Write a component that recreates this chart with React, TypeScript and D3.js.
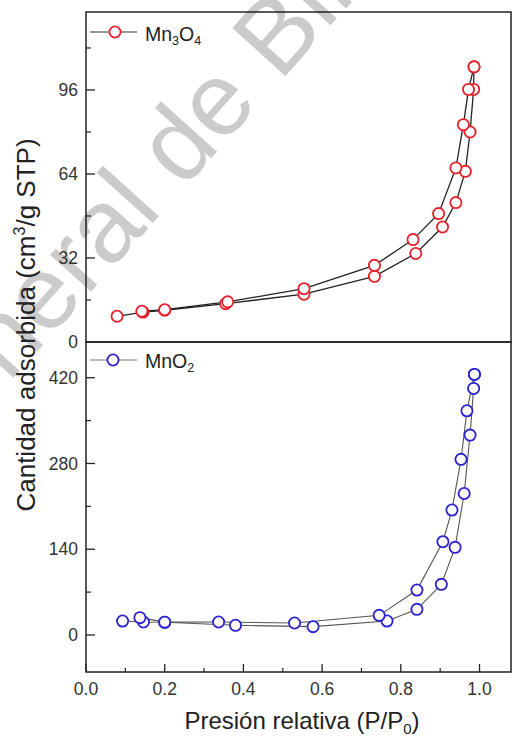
import React from "react";
import * as d3 from "d3";

// ---------- data ----------
const mn3o4AdsX = [0.079, 0.145, 0.2, 0.355, 0.554, 0.733, 0.838, 0.906, 0.94, 0.964, 0.976, 0.985, 0.986];
const mn3o4AdsY = [9.8, 11.4, 12.1, 14.6, 18.2, 25.0, 33.7, 43.8, 53.1, 65.0, 80.0, 96.2, 104.8];
const mn3o4DesX = [0.986, 0.972, 0.959, 0.94, 0.896, 0.831, 0.733, 0.554, 0.36, 0.2, 0.142];
const mn3o4DesY = [104.8, 96.2, 82.8, 66.3, 48.9, 39.0, 29.2, 20.3, 15.3, 12.3, 11.7];

const mno2AdsX = [0.093, 0.146, 0.2, 0.38, 0.577, 0.765, 0.841, 0.903, 0.938, 0.961, 0.976, 0.985, 0.987];
const mno2AdsY = [22.8, 21.2, 20.7, 15.8, 13.6, 22.8, 41.9, 82.7, 143.1, 231, 326.3, 402.5, 425.4];
const mno2DesX = [0.987, 0.968, 0.953, 0.93, 0.907, 0.841, 0.745, 0.53, 0.337, 0.2, 0.137];
const mno2DesY = [425.4, 366, 286.7, 204, 152.3, 73.4, 32.1, 19.6, 21.2, 21.0, 28.3];

const xTicks = [0, 0.2, 0.4, 0.6, 0.8, 1.0];
const xMinor = [0.1, 0.3, 0.5, 0.7, 0.9];
const yTopTicks = [0, 32, 64, 96];
const yTopMinor = [16, 48, 80, 112];
const yBotTicks = [0, 140, 280, 420];
const yBotMinor = [70, 210, 350];

const FONT = "'Liberation Sans', Arial, sans-serif";

export default function App() {
  const L = 86, R = 511, T = 12, M = 342, B = 672;
  const x = d3.scaleLinear().domain([0, 1.08]).range([L, R]);
  const yTop = d3.scaleLinear().domain([0, 125.7]).range([M, T]);
  const yBot = d3.scaleLinear().domain([-60.4, 478.3]).range([B, M]);

  const pts = (xs: number[], ys: number[]) => xs.map((v, i) => [v, ys[i]] as [number, number]);
  const lineTop = d3.line<[number, number]>().x(d => x(d[0])).y(d => yTop(d[1]));
  const lineBot = d3.line<[number, number]>().x(d => x(d[0])).y(d => yBot(d[1]));

  const red = "#e8202a";
  const blue = "#2b22d0";
  const r = 5.6;
  const tickFont = 17.5;

  const series = [
    { data: pts(mn3o4AdsX, mn3o4AdsY), line: lineTop, y: yTop, color: red, lc: "#222", lw: 1.3 },
    { data: pts(mn3o4DesX, mn3o4DesY), line: lineTop, y: yTop, color: red, lc: "#222", lw: 1.3 },
    { data: pts(mno2AdsX, mno2AdsY), line: lineBot, y: yBot, color: blue, lc: "#555", lw: 1.1 },
    { data: pts(mno2DesX, mno2DesY), line: lineBot, y: yBot, color: blue, lc: "#555", lw: 1.1 },
  ];

  return (
    <svg width={512} height={736} style={{ position: "absolute", left: 0, top: 0, background: "#fff" }} fontFamily={FONT}>
      <rect x={0} y={0} width={512} height={736} fill="#fff" />
      {/* watermark */}
      <text transform="translate(-84,486) rotate(-48)" fontSize={104} fill="#cbcbcb" fontFamily={FONT}>
        General de Bibliotecas UAQ
      </text>

      {/* frames */}
      <rect x={L} y={T} width={R - L} height={M - T} fill="none" stroke="#222" strokeWidth={1.5} />
      <rect x={L} y={M} width={R - L} height={B - M} fill="none" stroke="#222" strokeWidth={1.5} />

      {/* y ticks top */}
      {yTopTicks.map(v => (
        <g key={"yt" + v}>
          {v !== 0 && <line x1={L} x2={L + 9} y1={yTop(v)} y2={yTop(v)} stroke="#222" strokeWidth={1.3} />}
          <text x={78} y={yTop(v)} dy="0.35em" textAnchor="end" fontSize={tickFont} fill="#333">{v}</text>
        </g>
      ))}
      {yTopMinor.map(v => (
        <line key={"ytm" + v} x1={L} x2={L + 5} y1={yTop(v)} y2={yTop(v)} stroke="#222" strokeWidth={1.2} />
      ))}
      {/* y ticks bottom */}
      {yBotTicks.map(v => (
        <g key={"yb" + v}>
          <line x1={L} x2={L + 9} y1={yBot(v)} y2={yBot(v)} stroke="#222" strokeWidth={1.3} />
          <text x={78} y={yBot(v)} dy="0.35em" textAnchor="end" fontSize={tickFont} fill="#333">{v}</text>
        </g>
      ))}
      {yBotMinor.map(v => (
        <line key={"ybm" + v} x1={L} x2={L + 5} y1={yBot(v)} y2={yBot(v)} stroke="#222" strokeWidth={1.2} />
      ))}
      {/* x ticks */}
      {xTicks.map(v => (
        <g key={"xt" + v}>
          <line x1={x(v)} x2={x(v)} y1={B} y2={B - 8} stroke="#222" strokeWidth={1.3} />
          <text x={x(v)} y={695} textAnchor="middle" fontSize={tickFont} fill="#333">{v.toFixed(1)}</text>
        </g>
      ))}
      {xMinor.map(v => (
        <line key={"xm" + v} x1={x(v)} x2={x(v)} y1={B} y2={B - 4} stroke="#222" strokeWidth={1.2} />
      ))}

      {/* data */}
      {series.map((s, i) => (
        <path key={"l" + i} d={s.line(s.data) || ""} fill="none" stroke={s.lc} strokeWidth={s.lw} />
      ))}
      {series.map((s, i) => (
        <g key={"m" + i}>
          {s.data.map((d, j) => (
            <circle key={j} cx={x(d[0])} cy={s.y(d[1])} r={r} fill="#fff" stroke={s.color} strokeWidth={1.8} />
          ))}
        </g>
      ))}

      {/* legends */}
      <line x1={90} x2={137} y1={32} y2={32} stroke="#333" strokeWidth={1} />
      <circle cx={115} cy={32} r={r} fill="#fff" stroke={red} strokeWidth={1.8} />
      <text x={145} y={41} fontSize={19.5} fill="#222">
        Mn<tspan fontSize={12.5} dy={4}>3</tspan><tspan dy={-4}>O</tspan><tspan fontSize={12.5} dy={4}>4</tspan>
      </text>
      <line x1={90} x2={137} y1={360} y2={360} stroke="#777" strokeWidth={1} />
      <circle cx={113} cy={360} r={r} fill="#fff" stroke={blue} strokeWidth={1.8} />
      <text x={145} y={368} fontSize={19.5} fill="#222">
        MnO<tspan fontSize={12.5} dy={4}>2</tspan>
      </text>

      {/* axis labels */}
      <text x={302} y={729} textAnchor="middle" fontSize={24} fill="#222">
        Presión relativa (P/P<tspan fontSize={15} dy={5}>0</tspan><tspan dy={-5}>)</tspan>
      </text>
      <text transform="translate(35,325) rotate(-90)" textAnchor="middle" fontSize={26} fill="#222">
        Cantidad adsorbida (cm<tspan fontSize={16} dy={-10}>3</tspan><tspan dy={10}>/g STP)</tspan>
      </text>
    </svg>
  );
}
